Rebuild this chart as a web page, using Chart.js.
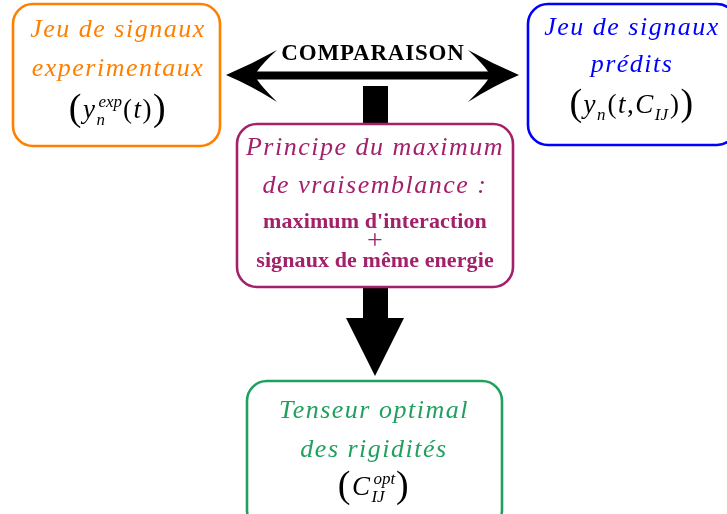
<!DOCTYPE html>
<html>
<head>
<meta charset="utf-8">
<script src="https://cdn.jsdelivr.net/npm/chart.js@4.4.1/dist/chart.umd.min.js"></script>
<style>
  html, body { margin: 0; padding: 0; background: #fff; }
  #diagram { display: block; }
</style>
</head>
<body>
<canvas id="diagram" width="727" height="514"></canvas>
<script>
// node texts (one entry per box)
const nodeNames = ['experimentaux', 'predits', 'principe', 'tenseur'];
const nodeItalicLines = [
    ['Jeu de signaux', 'experimentaux'],
    ['Jeu de signaux', 'prédits'],
    ['Principe du maximum', 'de vraisemblance :'],
    ['Tenseur optimal', 'des rigidités']
];
const nodeBoldLines = [[], [], ['maximum d\'interaction', '+', 'signaux de même energie'], []];
const comparisonLabel = 'COMPARAISON';

// formulas: [text, kind]  kind: big paren, it(alic), rm, sup, sub, stack (sup|sub)
const formulaExp = [['(', 'big'], ['y', 'it'], ['exp|n', 'stack'], ['(', 'rm'], ['t', 'it'], [')', 'rm'], [')', 'big']];
const formulaPred = [['(', 'big'], ['y', 'it'], ['n', 'sub'], ['(', 'rm'], ['t', 'it'], [',', 'rm'], ['C', 'it'], ['IJ', 'sub'], [')', 'rm'], [')', 'big']];
const formulaOpt = [['(', 'big'], ['C', 'it'], ['opt|IJ', 'stack'], [')', 'big']];
const nodeFormulas = [formulaExp, formulaPred, null, formulaOpt];

// layout in canvas units (scale = pixels)
const layout = {
    experimentaux: { x0: 13, x1: 220, y0: 4, y1: 146, cx: 118, lines: [37, 76], formula: 118, color: '#ff7f00' },
    predits: { x0: 528, x1: 737, y0: 4, y1: 145, cx: 632, lines: [35, 72], formula: 113, color: '#0000ff' },
    principe: { x0: 237, x1: 513, y0: 124, y1: 287, cx: 375, lines: [155, 193], bold: [228, 249, 267], color: '#a3206a' },
    tenseur: { x0: 247, x1: 502, y0: 381, y1: 530, cx: 374, lines: [418, 457], formula: 495, color: '#20a05e' }
};

function drawFormula(ctx, segs, cx, base) {
    const fonts = {
        big: '38px "Liberation Serif"', rm: '27px "Liberation Serif"', it: 'italic 27px "Liberation Serif"',
        small: 'italic 17px "Liberation Serif"'
    };
    const dys = { big: 2, rm: 0, it: 0 };
    const gap = 1.5;
    function width(seg) {
        const [s, k] = seg;
        if (k === 'stack') {
            ctx.font = fonts.small;
            return Math.max(...s.split('|').map(p => ctx.measureText(p).width)) + 3;
        }
        ctx.font = (k === 'sub' || k === 'sup') ? fonts.small : fonts[k];
        return ctx.measureText(s).width + (k === 'sub' ? 2 : gap);
    }
    const total = segs.reduce((a, s) => a + width(s), 0);
    let x = cx - total / 2;
    ctx.fillStyle = '#000';
    ctx.textBaseline = 'alphabetic';
    ctx.textAlign = 'left';
    segs.forEach(seg => {
        const [s, k] = seg;
        const w = width(seg);
        if (k === 'stack') {
            const [sup, sub] = s.split('|');
            ctx.font = fonts.small;
            ctx.fillText(sup, x + 2, base - 11);
            ctx.fillText(sub, x, base + 7);
        } else if (k === 'sub' || k === 'sup') {
            ctx.font = fonts.small;
            ctx.fillText(s, x, base + (k === 'sub' ? 7 : -11));
        } else {
            ctx.font = fonts[k];
            ctx.fillText(s, x, base + dys[k]);
        }
        x += w;
    });
}

const diagramPlugin = {
    id: 'diagram',
    afterDraw(chart) {
        const ctx = chart.ctx;
        const sx = v => chart.scales.x.getPixelForValue(v);
        const sy = v => chart.scales.y.getPixelForValue(v);
        ctx.save();

        // arrows
        ctx.fillStyle = '#000';
        // vertical shaft from comparison to principe
        ctx.fillRect(sx(363), sy(86), sx(388) - sx(363), sy(125) - sy(86));
        // down arrow from principe to tenseur
        ctx.fillRect(sx(363), sy(286), sx(388) - sx(363), sy(319) - sy(286));
        ctx.beginPath();
        ctx.moveTo(sx(346), sy(318));
        ctx.lineTo(sx(404), sy(318));
        ctx.lineTo(sx(375), sy(376));
        ctx.closePath();
        ctx.fill();
        // double headed comparison arrow
        ctx.beginPath();
        ctx.moveTo(sx(226), sy(75));
        ctx.quadraticCurveTo(sx(252), sy(64), sx(277), sy(50));
        ctx.quadraticCurveTo(sx(262), sy(64), sx(257), sy(71.5));
        ctx.lineTo(sx(488), sy(71.5));
        ctx.quadraticCurveTo(sx(483), sy(64), sx(468), sy(50));
        ctx.quadraticCurveTo(sx(493), sy(64), sx(519), sy(75));
        ctx.quadraticCurveTo(sx(493), sy(86), sx(468), sy(102));
        ctx.quadraticCurveTo(sx(483), sy(87), sx(488), sy(79.5));
        ctx.lineTo(sx(257), sy(79.5));
        ctx.quadraticCurveTo(sx(262), sy(87), sx(277), sy(102));
        ctx.quadraticCurveTo(sx(252), sy(86), sx(226), sy(75));
        ctx.closePath();
        ctx.fill();

        ctx.textAlign = 'center';
        ctx.textBaseline = 'alphabetic';
        ctx.font = 'bold 23px "Liberation Serif"';
        ctx.letterSpacing = '0.8px';
        ctx.fillText(comparisonLabel, sx(373), sy(60));

        // boxes
        nodeNames.forEach((name, i) => {
            const b = layout[name];
            ctx.fillStyle = '#fff';
            ctx.strokeStyle = b.color;
            ctx.lineWidth = 2.6;
            ctx.beginPath();
            ctx.roundRect(sx(b.x0), sy(b.y0), sx(b.x1) - sx(b.x0), sy(b.y1) - sy(b.y0), 20);
            ctx.fill();
            ctx.stroke();

            ctx.fillStyle = b.color;
            ctx.textAlign = 'center';
            ctx.font = 'italic 26px "Liberation Serif"';
            ctx.letterSpacing = '1.5px';
            nodeItalicLines[i].forEach((line, j) => ctx.fillText(line, sx(b.cx), sy(b.lines[j])));
            ctx.font = 'bold 22px "Liberation Serif"';
            ctx.letterSpacing = '0.1px';
            nodeBoldLines[i].forEach((line, j) => {
                if (line === '+') {
                    ctx.save();
                    ctx.letterSpacing = '0px';
                    ctx.font = '28px "Liberation Serif"';
                    ctx.fillText(line, sx(b.cx), sy(b.bold[j]));
                    ctx.restore();
                } else {
                    ctx.fillText(line, sx(b.cx), sy(b.bold[j]));
                }
            });
            ctx.letterSpacing = '0px';
            if (nodeFormulas[i]) drawFormula(ctx, nodeFormulas[i], sx(b.cx), sy(b.formula));
        });
        ctx.restore();
    }
};

new Chart(document.getElementById('diagram').getContext('2d'), {
    type: 'scatter',
    data: {
        datasets: [{
            data: nodeNames.map(n => ({ x: layout[n].cx, y: (layout[n].y0 + layout[n].y1) / 2 })),
            pointRadius: 0
        }]
    },
    options: {
        responsive: false,
        animation: false,
        layout: { padding: 0 },
        plugins: { legend: { display: false }, tooltip: { enabled: false } },
        scales: {
            x: { type: 'linear', min: 0, max: 727, display: false },
            y: { type: 'linear', min: 0, max: 514, reverse: true, display: false }
        }
    },
    plugins: [diagramPlugin]
});
</script>
</body>
</html>
